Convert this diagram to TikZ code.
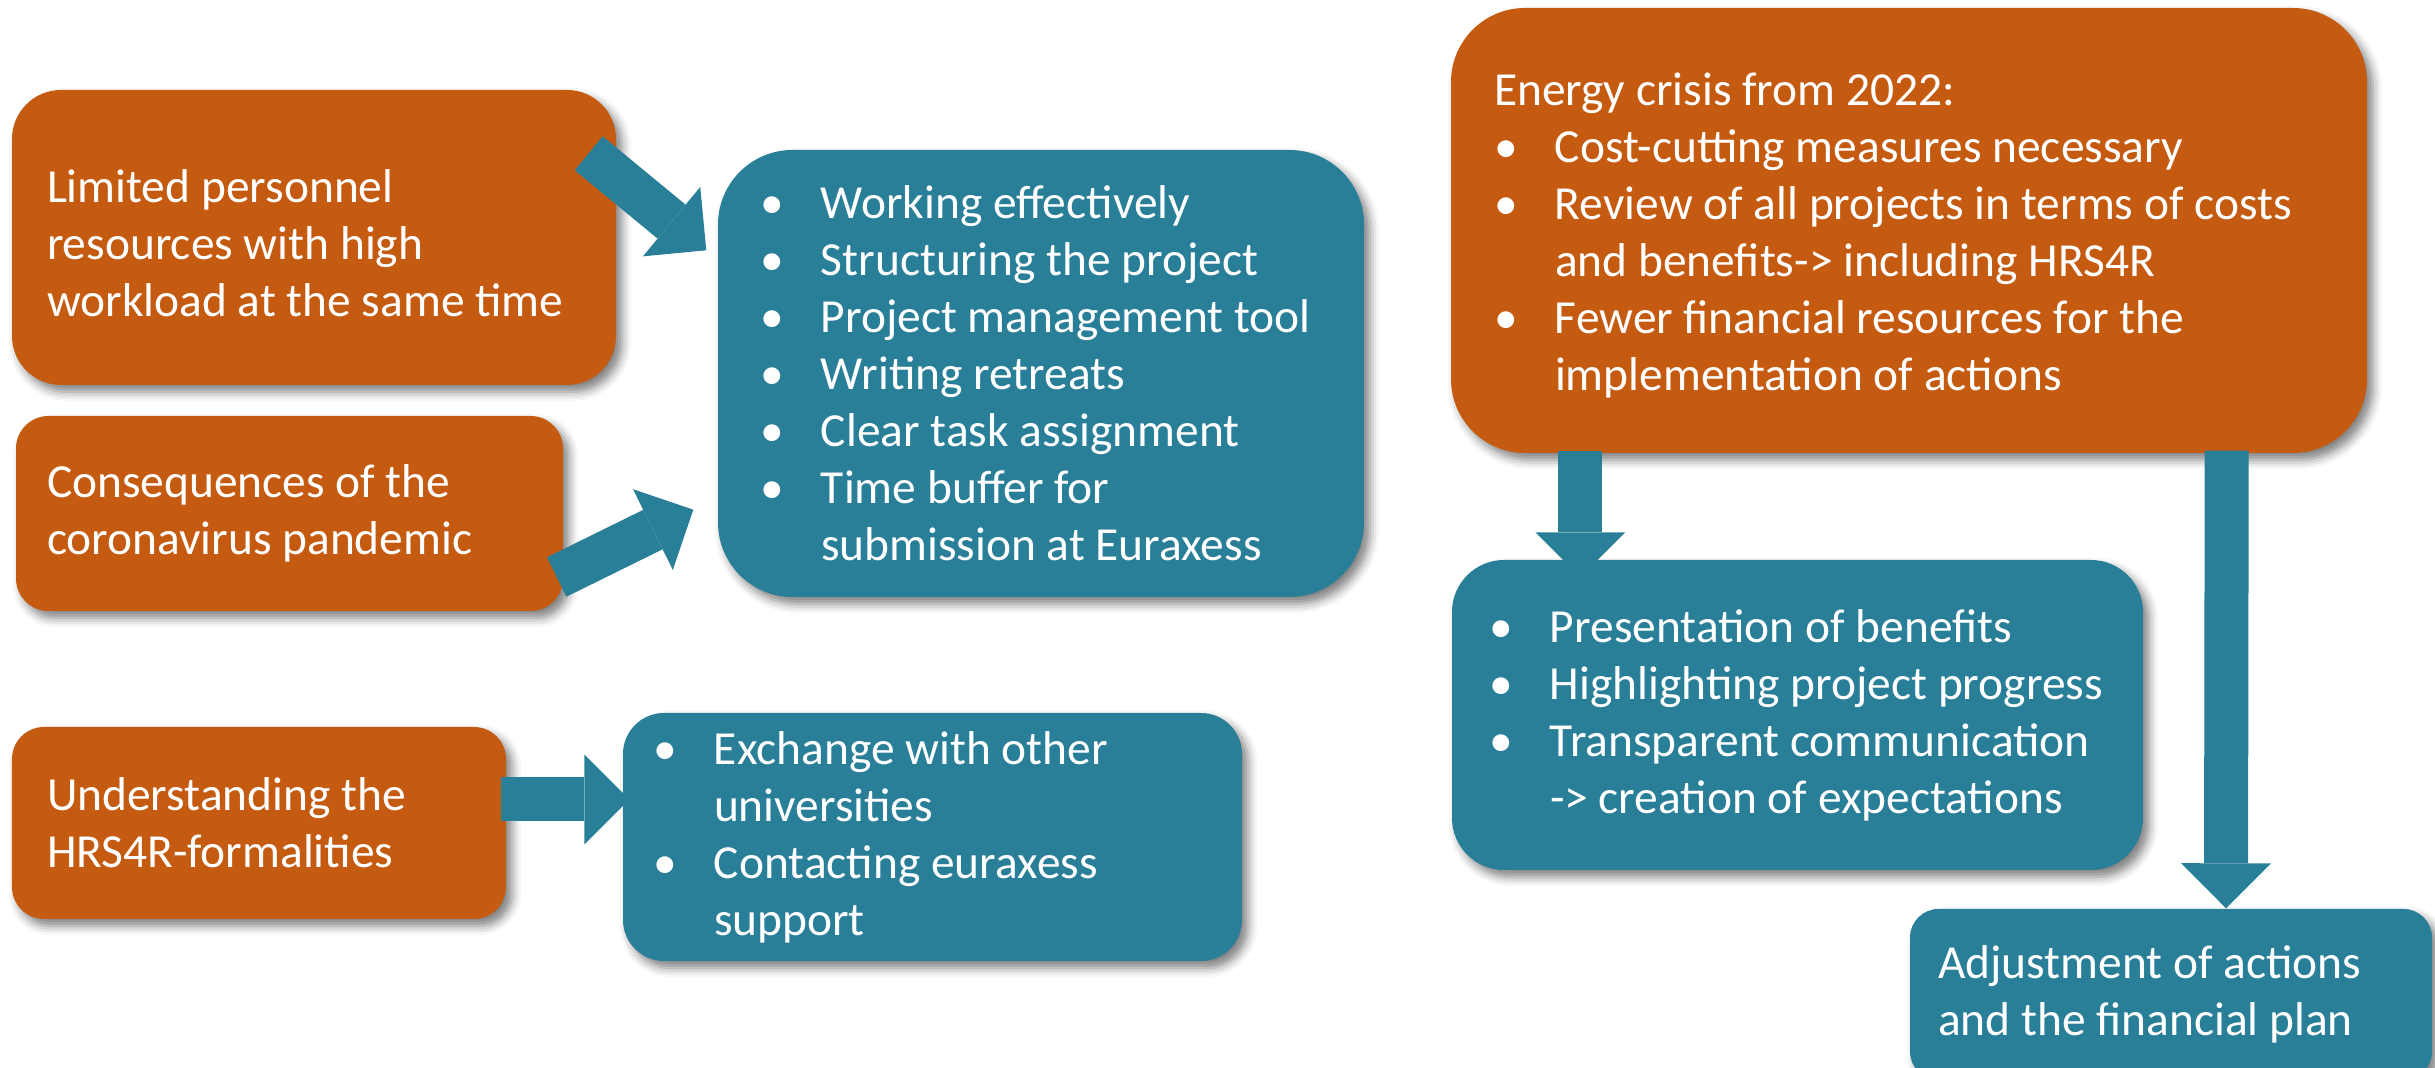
\documentclass[tikz,border=0pt]{standalone}
\usepackage{fontspec}
\setmainfont{Carlito}
\usetikzlibrary{arrows.meta, positioning, shadows.blur}
\definecolor{cOrange}{HTML}{C55A11}
\definecolor{cTeal}{HTML}{2A7F98}
\tikzset{
  box/.style      = {rectangle, inner sep=0pt,
                     blur shadow={shadow xshift=0.06cm, shadow yshift=-0.07cm,
                                  shadow blur radius=0.09cm, shadow opacity=50}},
  causebox/.style = {box, fill=cOrange},
  actbox/.style   = {box, fill=cTeal},
  txt/.style      = {text=white, align=left, inner sep=0pt,
                     font=\fontsize{13.5}{16.2}\selectfont},
  blockarr/.style = {draw=cTeal, line width=0.44cm,
                     -{Triangle[width=0.9cm, length=0.45cm, line width=0pt]}},
}
\newcommand{\bul}{\makebox[0.61cm][l]{\textbullet}}
\newcommand{\cont}{\hspace*{0.61cm}}

\begin{document}
\begin{tikzpicture}
  \useasboundingbox (0,0) rectangle (24.35,10.68);
  % causes on the left
  \node[causebox, minimum width=6.04cm, minimum height=2.95cm, rounded corners=0.49cm]
    (lim) at (3.14,8.305) {};
  \node[txt, right=0.35cm of lim.west, yshift=-0.06cm] (limtxt)
    {Limited personnel\\resources with high\\workload at the same time};
  \node[causebox, minimum width=5.47cm, minimum height=1.95cm, rounded corners=0.325cm]
    (covid) at (2.895,5.545) {};
  \node[txt, right=0.31cm of covid.west] (covidtxt)
    {Consequences of the\\coronavirus pandemic};
  \node[causebox, minimum width=4.94cm, minimum height=1.92cm, rounded corners=0.32cm]
    (hrs) at (2.59,2.45) {};
  \node[txt, right=0.35cm of hrs.west] (hrstxt)
    {Understanding the\\HRS4R-formalities};
  % measures
  \node[actbox, minimum width=6.46cm, minimum height=4.47cm, rounded corners=0.745cm]
    (work) at (10.41,6.945) {};
  \node[txt, right=0.42cm of work.west] (worktxt)
    {\bul Working effectively\\\bul Structuring the project\\\bul Project management tool\\
     \bul Writing retreats\\\bul Clear task assignment\\\bul Time buffer for\\
     \cont submission at Euraxess};
  \node[actbox, minimum width=6.19cm, minimum height=2.48cm, rounded corners=0.41cm]
    (exch) at (9.325,2.31) {};
  \node[txt, right=0.30cm of exch.west] (exchtxt)
    {\bul Exchange with other\\\cont universities\\\bul Contacting euraxess\\\cont support};
  % energy crisis
  \node[causebox, minimum width=9.16cm, minimum height=4.45cm, rounded corners=0.74cm]
    (energy) at (19.09,8.375) {};
  \node[txt, right=0.43cm of energy.west, yshift=-0.05cm] (energytxt)
    {Energy crisis from 2022:\\\bul Cost-cutting measures necessary\\
     \bul Review of all projects in terms of costs\\\cont and benefits-> including HRS4R\\
     \bul Fewer financial resources for the\\\cont implementation of actions};
  \node[actbox, minimum width=6.91cm, minimum height=3.10cm, rounded corners=0.52cm]
    (pres) at (17.975,3.53) {};
  \node[txt, right=0.37cm of pres.west] (prestxt)
    {\bul Presentation of benefits\\\bul Highlighting project progress\\
     \bul Transparent communication\\\cont -> creation of expectations};
  \node[actbox, minimum width=5.22cm, minimum height=1.71cm, rounded corners=0.285cm]
    (adjust) at (21.71,0.735) {};
  \node[txt, right=0.28cm of adjust.west] (adjusttxt)
    {Adjustment of actions\\and the financial plan};
  % arrows
  \draw[blockarr] ([shift={(-0.28,-0.64)}]lim.north east) -- ([shift={(-0.11,-1.01)}]work.north west);
  \draw[blockarr] ([shift={(-0.07,-0.635)}]covid.east) -- ([shift={(-0.24,0.88)}]work.south west);
  \draw[blockarr] ([shift={(-0.06,0.235)}]hrs.east) -- ([shift={(0.07,0.375)}]exch.west);
  \draw[blockarr] ([shift={(1.30,0.03)}]energy.south west) -- ([shift={(1.29,-0.18)}]pres.north west);
  \draw[blockarr] ([shift={(-1.41,0.03)}]energy.south east) -- ([shift={(0.55,0)}]adjust.north);
\end{tikzpicture}
\end{document}
